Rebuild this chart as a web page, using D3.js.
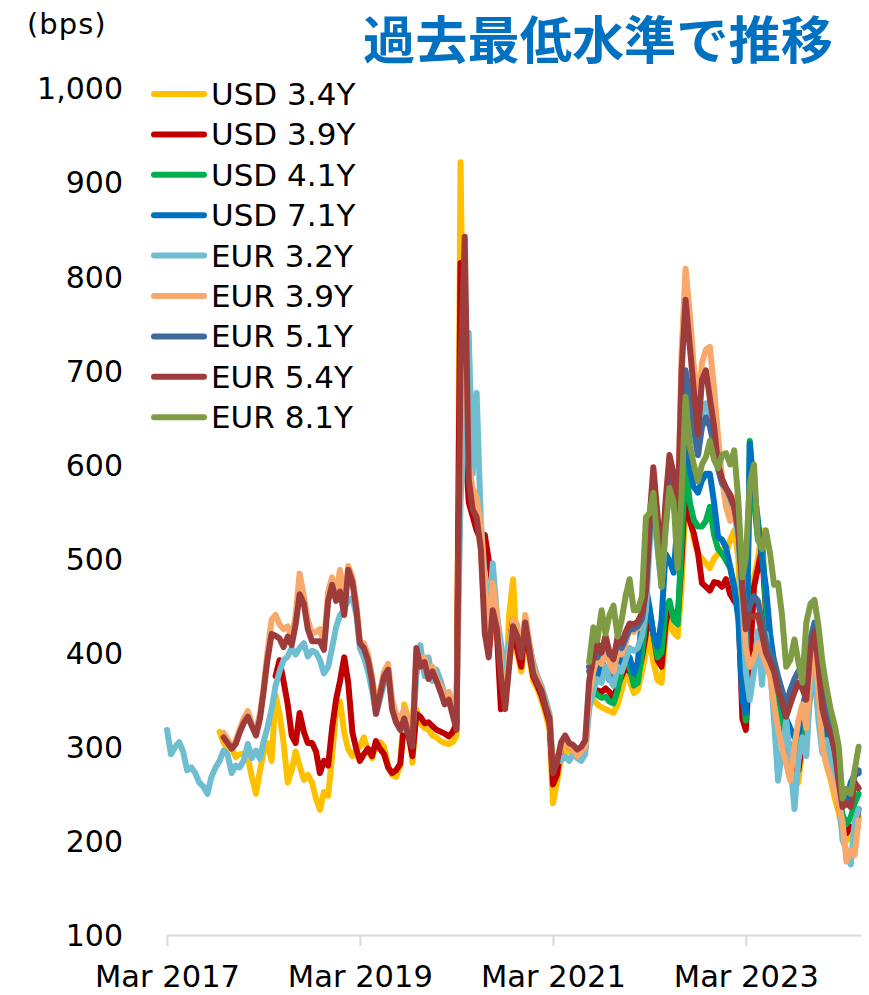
<!DOCTYPE html>
<html>
<head>
<meta charset="utf-8">
<script src="https://cdn.jsdelivr.net/npm/d3@7"></script>
<style>
  body { margin: 0; background: #fff; }
  svg { display: block; }
</style>
</head>
<body>
<svg id="chart" width="869" height="995"></svg>
<script>
// Spread series (bps), sampled on the 1st and 16th of each month from Mar 2017 to May 2024.
const seriesNames = ["USD 3.4Y", "USD 3.9Y", "USD 4.1Y", "USD 7.1Y", "EUR 3.2Y", "EUR 3.9Y", "EUR 5.1Y", "EUR 5.4Y", "EUR 8.1Y"];
const seriesColors = ["#FFC000", "#C00000", "#00B050", "#0070C0", "#6FBDD1", "#F8A86A", "#3E6A9C", "#9D3C3A", "#7F9B43"];

const N13 = Array(13).fill(null);
const N14 = Array(14).fill(null);
const N27 = Array(27).fill(null);
const N105 = Array(105).fill(null);

const usd34 = [...N13,
  316, 305, 297, 299, 289, 292, 293, 289, 268, 250, 275, 293,
  304, 285, 355, 335, 305, 262, 275, 295, 280, 265, 270, 262,
  245, 233, 252, 248, 290, 338, 348, 315, 297, 290, 297, 300,
  310, 296, 288, 302, 305, 300, 280, 270, 268, 280, 345, 330,
  283, 340, 325, 320, 318, 312, 310, 306, 304, 303, 305, 312,
  921, 600, 575, 560, 540, 510, 440, 405, 460, 430, 360, 345,
  440, 478, 400, 380, 420, 395, 370, 362, 350, 335, 318, 240,
  262, 290, 298, 295, 292, 288, 290, 296, 345, 350, 345, 342,
  340, 338, 336, 345, 360, 378, 370, 357, 360, 380, 400, 417,
  390, 371, 368, 420, 435, 421, 417, 470, 560, 545, 520, 505,
  500, 495, 490, 500, 505, 510, 505, 520, 530, 500, 360, 320,
  400, 480, 500, 530, 440, 395, 370, 340, 310, 285, 275, 265,
  262, 300, 320, 355, 365, 340, 300, 280, 265, 245, 230, 210,
  200, 205, 198, 225];

const usd39 = [...N27,
  375, 392, 370, 345, 312, 304, 336, 316, 304, 304,
  295, 272, 285, 280, 320, 350, 370, 395, 368, 315, 297, 285,
  292, 298, 290, 306, 298, 292, 278, 272, 275, 282, 325, 312,
  290, 335, 332, 325, 326, 322, 318, 316, 314, 311, 316, 325,
  814, 640, 560, 545, 530, 520, 525, 498, 470, 420, 340, 360,
  405, 435, 405, 385, 430, 400, 375, 365, 355, 340, 325, 260,
  270, 300, 308, 300, 298, 293, 296, 300, 350, 360, 360, 358,
  362, 358, 352, 365, 375, 385, 380, 372, 376, 395, 420, 440,
  420, 392, 385, 430, 450, 440, 435, 500, 580, 540, 527, 506,
  474, 470, 466, 475, 474, 470, 478, 462, 455, 450, 330, 318,
  390, 470, 490, 510, 445, 400, 370, 345, 318, 300, 285, 275,
  275, 305, 325, 360, 370, 345, 308, 290, 275, 255, 240, 218,
  208, 215, 210, 234];

const usd41 = [...N105,
  355, 360, 355, 352, 353, 348, 346, 360, 380, 392, 385, 365,
  368, 400, 440, 448, 420, 395, 400, 448, 455, 435, 430, 520,
  600, 560, 541, 534, 534, 540, 555, 525, 510, 505, 498, 490,
  470, 440, 365, 328, 625, 560, 520, 520, 450, 410, 380, 355,
  330, 312, 300, 290, 290, 320, 340, 375, 385, 360, 320, 300,
  285, 265, 250, 228, 218, 225, 240, 250];

const usd71 = [...N105,
  385, 378, 371, 392, 380, 371, 390, 400, 385, 400, 395, 378,
  390, 435, 470, 448, 420, 406, 435, 505, 498, 485, 541, 612,
  640, 594, 576, 570, 583, 590, 590, 559, 523, 520, 512, 491,
  470, 435, 350, 336, 622, 575, 540, 500, 470, 420, 390, 365,
  345, 330, 320, 310, 312, 340, 360, 392, 400, 380, 340, 318,
  300, 285, 270, 248, 240, 262, 270, 272];

const eur32 = [
  318, 292, 300, 305, 295, 275, 278, 272, 262, 258, 250, 268, 278,
  285, 296, 292, 272, 280, 278, 285, 303, 288, 296, 287, 305,
  320, 340, 365, 380, 392, 396, 405, 398, 405, 410, 396, 402,
  400, 392, 378, 385, 405, 427, 440, 446, 456, 458, 440, 405,
  395, 380, 360, 335, 350, 368, 380, 345, 330, 325, 318, 330,
  310, 375, 408, 375, 395, 370, 382, 370, 355, 358, 340, 335,
  560, 640, 740, 590, 676, 540, 480, 430, 495, 440, 410, 380,
  410, 430, 420, 405, 435, 410, 390, 375, 365, 350, 335, 282,
  290, 285, 290, 285, 292, 288, 285, 292, 340, 360, 372, 368,
  385, 372, 365, 385, 380, 392, 405, 402, 405, 418, 445, 510,
  560, 510, 470, 530, 580, 560, 520, 620, 680, 650, 630, 610,
  655, 665, 650, 620, 600, 580, 570, 560, 550, 520, 450, 380,
  350, 380, 423, 366, 420, 384, 328, 264, 293, 328, 285, 234,
  285, 310, 290, 366, 380, 328, 293, 307, 285, 260, 249, 201,
  190, 175, 220, 234];

const eur39 = [...N14,
  315, 308, 300, 306, 318, 330, 338, 325, 318, 335, 362,
  400, 435, 440, 430, 425, 428, 415, 440, 484, 460, 435, 420,
  422, 425, 410, 465, 480, 462, 488, 455, 492, 480, 452, 412,
  410, 398, 375, 345, 360, 380, 388, 350, 335, 330, 340, 325,
  315, 400, 392, 395, 380, 385, 372, 365, 352, 358, 345, 330,
  650, 790, 600, 575, 565, 535, 470, 420, 474, 440, 385, 350,
  398, 435, 430, 400, 440, 412, 385, 372, 362, 345, 332, 275,
  285, 298, 305, 300, 298, 290, 295, 300, 355, 380, 395, 388,
  405, 390, 380, 400, 398, 410, 425, 422, 426, 438, 460, 530,
  580, 530, 485, 545, 605, 585, 540, 720, 808, 760, 705, 660,
  708, 722, 725, 680, 630, 585, 555, 540, 565, 540, 478, 405,
  385, 395, 410, 400, 388, 375, 345, 320, 300, 282, 264, 300,
  328, 345, 320, 385, 408, 360, 300, 280, 268, 252, 240, 220,
  178, 190, 185, 222];

const eur51 = [...N105,
  380, 400, 395, 405, 412, 398, 395, 410, 405, 415, 425, 425,
  428, 436, 465, 525, 575, 530, 490, 550, 600, 580, 540, 650,
  700, 670, 640, 610, 640, 650, 640, 620, 595, 580, 575, 565,
  555, 530, 470, 430, 450, 460, 455, 432, 412, 400, 392, 375,
  360, 345, 360, 372, 380, 372, 362, 415, 432, 398, 355, 335,
  325, 305, 275, 248, 255, 250, 270, 275];

const eur54 = [...N14,
  310, 304, 298, 303, 315, 325, 332, 322, 312, 330, 357,
  392, 420, 418, 415, 406, 417, 408, 430, 462, 452, 425, 412,
  412, 412, 403, 455, 472, 455, 465, 440, 488, 475, 445, 410,
  405, 392, 370, 335, 355, 375, 382, 340, 326, 318, 330, 312,
  300, 405, 385, 390, 372, 380, 370, 358, 345, 350, 333, 318,
  700, 842, 585, 552, 544, 510, 420, 395, 445, 425, 375, 340,
  385, 428, 418, 395, 432, 405, 378, 368, 360, 343, 330, 272,
  283, 305, 312, 304, 302, 297, 300, 307, 370, 395, 410, 400,
  418, 400, 393, 417, 410, 422, 431, 430, 433, 442, 470, 540,
  597, 545, 495, 560, 610, 590, 545, 700, 775, 725, 680, 632,
  690, 700, 670, 640, 600, 585, 575, 568, 555, 530, 470, 425,
  440, 438, 440, 420, 400, 390, 380, 360, 348, 332, 345, 358,
  368, 362, 350, 405, 422, 385, 340, 322, 315, 295, 262, 236,
  240, 236, 262, 256];

const eur81 = [...N105,
  390, 427, 413, 445, 420, 440, 450, 417, 435, 460, 478, 445,
  445, 460, 544, 548, 570, 515, 470, 530, 575, 560, 490, 570,
  672, 620, 600, 582, 600, 608, 625, 605, 596, 610, 612, 600,
  615, 560, 480, 500, 580, 600, 520, 510, 530, 505, 472, 474,
  440, 385, 392, 414, 390, 368, 432, 452, 456, 428, 390, 362,
  340, 322, 300, 245, 255, 250, 275, 300];

const seriesValues = [usd34, usd39, usd41, usd71, eur32, eur39, eur51, eur54, eur81];

const yTicks = [100, 200, 300, 400, 500, 600, 700, 800, 900, 1000];
const xTickDates = ["2017-03-01", "2019-03-01", "2021-03-01", "2023-03-01"];
const xTickLabels = ["Mar 2017", "Mar 2019", "Mar 2021", "Mar 2023"];
const titleText = "過去最低水準で推移";
const unitText = "(bps)";

// Sample dates: 1st and 16th of each month
const firstDate = new Date(Date.UTC(2017, 2, 1));
const dates = usd34.map((_, i) => {
  const m = d3.utcMonth.offset(firstDate, Math.floor(i / 2));
  return i % 2 ? d3.utcDay.offset(m, 15) : m;
});

const svg = d3.select("#chart");
const font = "'DejaVu Sans', Verdana, sans-serif";

const x = d3.scaleUtc()
  .domain([firstDate, new Date(Date.UTC(2024, 4, 10))])
  .range([167, 861]);
const y = d3.scaleLinear().domain([100, 1000]).range([935, 88]);

// Y labels (no axis line)
const yAxis = svg.append("g")
  .attr("transform", "translate(123,0)")
  .call(d3.axisLeft(y).tickValues(yTicks).tickFormat(d3.format(",")).tickSize(0).tickPadding(0));
yAxis.select(".domain").remove();
yAxis.selectAll("text")
  .attr("font-family", font).attr("font-size", 30).attr("fill", "#000")
  .attr("dy", "0.36em");

// X axis
const xAxis = svg.append("g")
  .attr("transform", "translate(0,935)")
  .call(d3.axisBottom(x)
    .tickValues(xTickDates.map(d => d3.utcParse("%Y-%m-%d")(d)))
    .tickFormat((d, i) => xTickLabels[i])
    .tickSize(11).tickSizeOuter(0).tickPadding(20));
xAxis.select(".domain").attr("stroke", "#D9D9D9").attr("stroke-width", 2);
xAxis.selectAll(".tick line").attr("stroke", "#D9D9D9").attr("stroke-width", 2);
xAxis.selectAll("text")
  .attr("font-family", font).attr("font-size", 31).attr("fill", "#000")
  .attr("y", 52).attr("dy", 0)
  .attr("textLength", 145).attr("lengthAdjust", "spacingAndGlyphs");

// Series lines
const line = d3.line()
  .defined(d => d[1] != null)
  .x(d => x(d[0]))
  .y(d => y(d[1]))
  .curve(d3.curveLinear);

svg.append("g").selectAll("path")
  .data(seriesValues)
  .join("path")
  .attr("fill", "none")
  .attr("stroke", (d, i) => seriesColors[i])
  .attr("stroke-width", 6)
  .attr("stroke-linejoin", "round")
  .attr("stroke-linecap", "round")
  .attr("d", vals => line(vals.map((v, i) => [dates[i], v])));

// Legend
const legend = svg.append("g").selectAll("g")
  .data(seriesNames)
  .join("g")
  .attr("transform", (d, i) => `translate(0,${94 + i * 40.4})`);
legend.append("line")
  .attr("x1", 154).attr("x2", 204)
  .attr("stroke", (d, i) => seriesColors[i])
  .attr("stroke-width", 6).attr("stroke-linecap", "round");
legend.append("text")
  .attr("x", 211).attr("y", 11)
  .attr("font-family", font).attr("font-size", 31).attr("fill", "#000")
  .text(d => d);

// Unit and headline
svg.append("text")
  .attr("x", 27).attr("y", 34)
  .attr("font-family", font).attr("font-size", 29).attr("fill", "#000")
  .attr("letter-spacing", 1)
  .text(unitText);

svg.append("text")
  .attr("x", 363).attr("y", 59)
  .attr("font-family", "'Noto Sans CJK JP', sans-serif")
  .attr("font-weight", 700).attr("font-size", 51).attr("fill", "#0070C0")
  .attr("textLength", 470).attr("lengthAdjust", "spacingAndGlyphs")
  .text(titleText);
</script>
</body>
</html>
